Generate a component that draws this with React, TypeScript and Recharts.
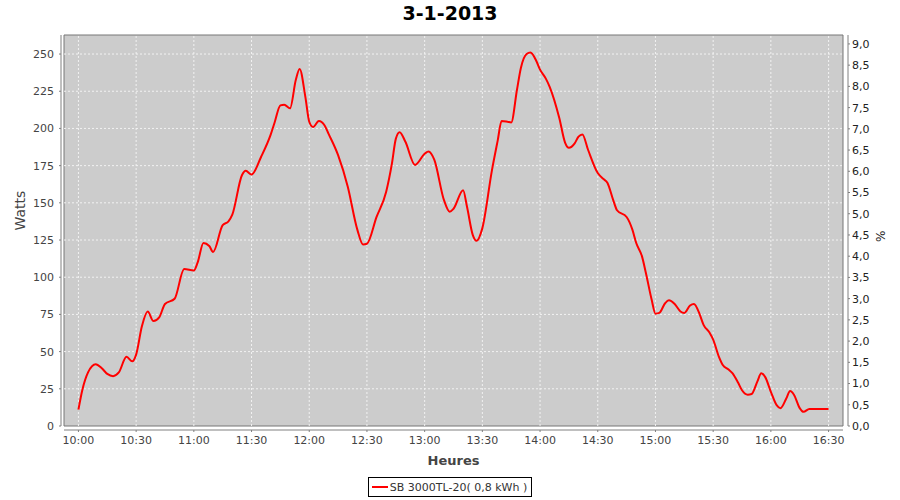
import {LineChart, Line, XAxis, YAxis, CartesianGrid, ReferenceArea, ReferenceLine, Legend} from 'recharts'

// minutes after 10:00
const minutes = [
    0, 2, 5, 9, 12, 15, 18, 21, 25, 28, 30, 33, 36, 39, 42, 45, 50, 55, 60, 62,
    65, 68, 70, 75, 78, 80, 85, 87, 90, 95, 100, 102, 105, 107, 110, 113, 115, 118, 120, 122,
    125, 128, 130, 135, 140, 145, 148, 150, 155, 160, 163, 165, 167, 170, 175, 180, 182, 185, 190, 193,
    195, 200, 202, 205, 207, 210, 215, 218, 220, 223, 225, 228, 230, 233, 235, 238, 240, 243, 245, 250,
    253, 255, 258, 260, 262, 265, 270, 273, 275, 278, 280, 285, 288, 290, 293, 295, 298, 300, 302, 305,
    307, 310, 313, 315, 318, 320, 323, 325, 328, 330, 333, 335, 338, 340, 343, 345, 348, 350, 353, 355,
    357, 360, 363, 365, 368, 370, 372, 375, 377, 380, 385, 390,
]

const watts = [
    11, 24, 36, 41.5, 39, 35, 33.5, 36, 46.5, 43.5, 48, 67, 77, 70.5, 73, 82, 85.5, 105.5, 104.5, 110,
    123, 121, 117, 135, 137.5, 142, 168.5, 171.5, 169, 181, 196, 204, 215.5, 216, 213.5, 232.5, 240, 221, 204.5, 201,
    205, 202, 196.5, 182, 161, 132, 122, 122.5, 140.5, 157.5, 176.5, 193, 197.5, 191, 175.5, 183, 184.5, 179, 152, 144,
    146, 158.5, 147.5, 128.5, 124.5, 133, 172, 192, 205, 204.5, 204, 226, 240.5, 250, 251, 245.5, 239.5, 233.5, 228, 207,
    190.5, 187, 190, 194.5, 196, 185.5, 170, 166, 163.5, 152, 145, 140.5, 132, 123, 114, 103, 85, 75.5, 76, 82.5,
    84.5, 82, 77, 76, 81, 82, 75, 68, 63, 58, 46.5, 41, 38, 35.5, 29, 24, 21, 21.5, 30, 35.5,
    33, 23, 14, 12, 18.5, 23.5, 21, 12, 9.5, 11.5, 11.5, 11.5,
]

const timeTicks = [0, 30, 60, 90, 120, 150, 180, 210, 240, 270, 300, 330, 360, 390]
const wattTicks = [0, 25, 50, 75, 100, 125, 150, 175, 200, 225, 250]
const pctTicks = [0, 0.5, 1, 1.5, 2, 2.5, 3, 3.5, 4, 4.5, 5, 5.5, 6, 6.5, 7, 7.5, 8, 8.5, 9]

const seriesName = 'SB 3000TL-20( 0,8 kWh )'
const chartTitle = '3-1-2013'

const data = minutes.map((m, i) => ({t: m, w: watts[i]}))

const fmtTime = (m: number) => {
    const h = 10 + Math.floor(m / 60)
    const mm = m % 60
    return `${h}:${mm < 10 ? '0' + mm : mm}`
}

const font = '"DejaVu Sans", sans-serif'

const LegendBox = () => (
    <div style={{height: 24, display: 'flex', justifyContent: 'center', alignItems: 'flex-start'}}>
        <div style={{
            marginTop: 1,
            height: 18,
            border: '1px solid #000',
            display: 'flex',
            alignItems: 'center',
            padding: '0 4px 0 3px',
            fontFamily: font,
            fontSize: 11,
            color: '#333',
            background: '#fff',
        }}>
            <span style={{display: 'inline-block', width: 16, height: 2, background: '#ff0000', marginRight: 2}} />
            {seriesName}
        </div>
    </div>
)

export default function App() {
    return (
        <div style={{position: 'absolute', left: 0, top: 0, width: 900, height: 500, background: '#fff'}}>
            <div style={{
                position: 'absolute', left: 0, top: 2, width: 900, textAlign: 'center',
                fontFamily: font, fontWeight: 'bold', fontSize: 19, color: '#000',
            }}>
                {chartTitle}
            </div>
            <LineChart
                width={900}
                height={500}
                data={data}
                margin={{top: 35, right: 0, bottom: 0, left: 0}}
            >
                {/* grey plot background only, grid lines are drawn below as reference lines */}
                <CartesianGrid
                    yAxisId="w"
                    fill="#cccccc"
                    horizontal={false}
                    vertical={false}
                />
                {timeTicks.map((t) => (
                    <ReferenceLine key={'v' + t} yAxisId="w" x={t} stroke="#f2f2f2" strokeDasharray="2 2" />
                ))}
                {wattTicks.filter((w) => w > 0).map((w) => (
                    <ReferenceLine key={'h' + w} yAxisId="w" y={w} stroke="#f2f2f2" strokeDasharray="2 2" />
                ))}
                <ReferenceArea
                    yAxisId="w"
                    x1={-7.5}
                    x2={397.5}
                    y1={0}
                    y2={262.8}
                    fill="none"
                    fillOpacity={0}
                    stroke="#777"
                    strokeWidth={1}
                />
                <XAxis
                    dataKey="t"
                    type="number"
                    domain={[-7.5, 397.5]}
                    ticks={timeTicks}
                    tickFormatter={fmtTime}
                    height={50}
                    tickSize={2}
                    tickMargin={8}
                    axisLine={{stroke: '#808080', transform: 'translate(0,4)'}}
                    tickLine={{stroke: '#808080', transform: 'translate(0,4)'}}
                    tick={{fontSize: 11, fill: '#444', fontFamily: font}}
                    label={{value: 'Heures', position: 'insideBottom', offset: 11, fontSize: 13, fontWeight: 'bold', fill: '#444', fontFamily: font}}
                />
                <YAxis
                    yAxisId="w"
                    orientation="left"
                    type="number"
                    domain={[0, 262.8]}
                    ticks={wattTicks}
                    width={64}
                    tickSize={2}
                    tickMargin={8}
                    axisLine={{stroke: '#808080', transform: 'translate(-3,0)'}}
                    tickLine={{stroke: '#808080', transform: 'translate(-3,0)'}}
                    tick={{fontSize: 11, fill: '#444', fontFamily: font}}
                    label={{value: 'Watts', angle: -90, position: 'insideLeft', offset: 20, fontSize: 14, fill: '#444', fontFamily: font}}
                />
                <YAxis
                    yAxisId="p"
                    orientation="right"
                    type="number"
                    domain={[0, 9.21]}
                    allowDataOverflow={true}
                    ticks={pctTicks}
                    width={57}
                    tickSize={2}
                    tickMargin={7}
                    tickFormatter={(v: number) => v.toFixed(1).replace('.', ',')}
                    axisLine={{stroke: '#808080', transform: 'translate(5,0)'}}
                    tickLine={{stroke: '#808080', transform: 'translate(5,0)'}}
                    tick={{fontSize: 11, fill: '#222', fontFamily: font}}
                    label={{value: '%', angle: -90, position: 'insideRight', offset: 19, fontSize: 12, fill: '#222', fontFamily: font}}
                />
                <Legend verticalAlign="bottom" content={<LegendBox />} />
                {/* invisible series so the % axis gets drawn */}
                <Line
                    yAxisId="p"
                    type="monotone"
                    dataKey="w"
                    stroke="none"
                    dot={false}
                    activeDot={false}
                    legendType="none"
                    isAnimationActive={false}
                />
                <Line
                    yAxisId="w"
                    type="monotone"
                    dataKey="w"
                    name={seriesName}
                    stroke="#ff0000"
                    strokeWidth={2}
                    dot={false}
                    isAnimationActive={false}
                />
            </LineChart>
        </div>
    )
}
